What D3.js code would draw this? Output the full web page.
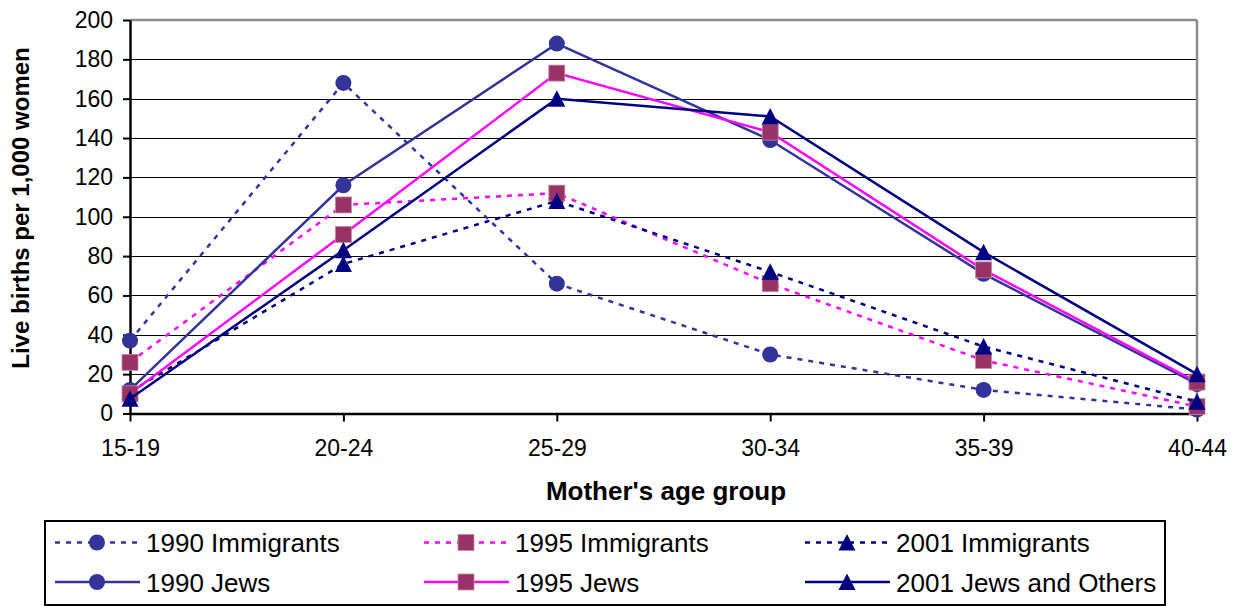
<!DOCTYPE html>
<html>
<head>
<meta charset="utf-8">
<script src="https://cdn.jsdelivr.net/npm/d3@7"></script>
<style>
body { margin:0; background:#fff; }
svg { font-family: Arial, "Liberation Sans", sans-serif; }
</style>
</head>
<body>
<div id="chart"></div>
<script>
var categories = ['15-19','20-24','25-29','30-34','35-39','40-44'];
var yTicks = [0,20,40,60,80,100,120,140,160,180,200];

var seriesNames = ['1990 Immigrants','1995 Immigrants','2001 Immigrants','1990 Jews','1995 Jews','2001 Jews and Others'];
var imm1990  = [37, 168, 66, 30, 12, 2];
var imm1995  = [26, 106, 112, 66, 27, 3.5];
var imm2001  = [11, 76, 108, 72, 34, 6];
var jews1990 = [12, 116, 188, 139, 71, 15];
var jews1995 = [10, 91, 173, 143, 73, 16];
var jews2001 = [7.5, 83, 160, 151, 82, 20];

var width = 1239, height = 606;
var plotLeft = 130, plotRight = 1197, plotTop = 20, plotBottom = 413.5;

// style per series (same order as names)
var styles = [
	{line:'#333399', fill:'#333399', dash:'5,6', shape:'circle'},
	{line:'#FF00FF', fill:'#993366', dash:'5,6', shape:'square'},
	{line:'#000080', fill:'#000080', dash:'5,6', shape:'triangle'},
	{line:'#333399', fill:'#333399', dash:null, shape:'circle'},
	{line:'#FF00FF', fill:'#993366', dash:null, shape:'square'},
	{line:'#000080', fill:'#000080', dash:null, shape:'triangle'}
];
var values = [imm1990, imm1995, imm2001, jews1990, jews1995, jews2001];

var svg = d3.select('#chart').append('svg')
	.attr('width',width)
	.attr('height',height);

var x = d3.scalePoint().domain(categories).range([plotLeft,plotRight]);
var y = d3.scaleLinear().domain([0,200]).range([plotBottom,plotTop]);

// grid
svg.append('g').selectAll('line').data(yTicks.slice(1,-1)).enter().append('line')
	.attr('x1',plotLeft).attr('x2',plotRight)
	.attr('y1',function(d){return Math.round(y(d))+0.5;})
	.attr('y2',function(d){return Math.round(y(d))+0.5;})
	.style('stroke','#000').style('stroke-width',1);

// plot border top/right
svg.append('line').attr('x1',plotLeft).attr('x2',plotRight).attr('y1',plotTop).attr('y2',plotTop)
	.style('stroke','#8c8c8c').style('stroke-width',2.5);
svg.append('line').attr('x1',plotRight).attr('x2',plotRight).attr('y1',plotTop).attr('y2',plotBottom)
	.style('stroke','#8c8c8c').style('stroke-width',2.5);

// y axis
var yAxis = svg.append('g').attr('transform','translate('+plotLeft+',0)')
	.call(d3.axisLeft(y).tickValues(yTicks).tickSize(7).tickPadding(10).tickSizeOuter(0));
yAxis.select('.domain').style('stroke','#000').style('stroke-width',2.5);
yAxis.selectAll('.tick line').style('stroke','#000').style('stroke-width',2);
yAxis.selectAll('.tick text').style('font-size','23px').style('fill','#000')
	.attr('font-family','Arial, Liberation Sans, sans-serif');

// x axis
var xAxis = svg.append('g').attr('transform','translate(0,'+plotBottom+')')
	.call(d3.axisBottom(x).tickSize(8).tickPadding(18).tickSizeOuter(0));
xAxis.select('.domain').style('stroke','#000').style('stroke-width',2.5);
xAxis.selectAll('.tick line').style('stroke','#000').style('stroke-width',2);
xAxis.selectAll('.tick text').style('font-size','23px').style('fill','#000')
	.attr('font-family','Arial, Liberation Sans, sans-serif');

// axis titles
svg.append('text')
	.attr('transform','translate(29,208) rotate(-90)')
	.attr('text-anchor','middle')
	.style('font-size','24px').style('font-weight','bold')
	.text('Live births per 1,000 women');
svg.append('text')
	.attr('x',666).attr('y',500)
	.attr('text-anchor','middle')
	.style('font-size','26px').style('font-weight','bold')
	.text("Mother's age group");

function marker(g, shape, fill, cx, cy){
	if(shape=='circle'){
		g.append('circle').attr('cx',cx).attr('cy',cy).attr('r',8).style('fill',fill);
	} else if(shape=='square'){
		g.append('rect').attr('x',cx-8).attr('y',cy-8).attr('width',16).attr('height',16)
			.style('fill',fill).style('stroke','#c48aa8').style('stroke-width',0.8);
	} else {
		g.append('path').attr('d','M'+cx+','+(cy-8.5)+'L'+(cx+8.5)+','+(cy+8)+'L'+(cx-8.5)+','+(cy+8)+'Z')
			.style('fill',fill);
	}
}

var line = d3.line()
	.x(function(d,i){return x(categories[i]);})
	.y(function(d){return y(d);});

// series
for(var s=0; s<values.length; s++){
	var st = styles[s];
	var g = svg.append('g');
	g.append('path').datum(values[s]).attr('d',line)
		.style('fill','none').style('stroke',st.line).style('stroke-width',2.5)
		.style('stroke-dasharray',st.dash);
	values[s].forEach(function(v,i){
		marker(g, st.shape, st.fill, x(categories[i]), y(v));
	});
}

// legend
var lg = svg.append('g');
lg.append('rect').attr('x',45).attr('y',521).attr('width',1120).attr('height',84)
	.style('fill','#fff').style('stroke','#000').style('stroke-width',2);
var colX = [55, 424, 805];
var rowY = [542.5, 582];
for(var s=0; s<seriesNames.length; s++){
	var cx = colX[s%3], cy = rowY[Math.floor(s/3)];
	var st = styles[s];
	lg.append('line').attr('x1',cx).attr('x2',cx+85).attr('y1',cy).attr('y2',cy)
		.style('stroke',st.line).style('stroke-width',2.5).style('stroke-dasharray',st.dash);
	marker(lg, st.shape, st.fill, cx+42, cy);
	lg.append('text').attr('x',cx+91).attr('y',cy+9.5)
		.style('font-size','26px')
		.text(seriesNames[s]);
}
</script>
</body>
</html>
